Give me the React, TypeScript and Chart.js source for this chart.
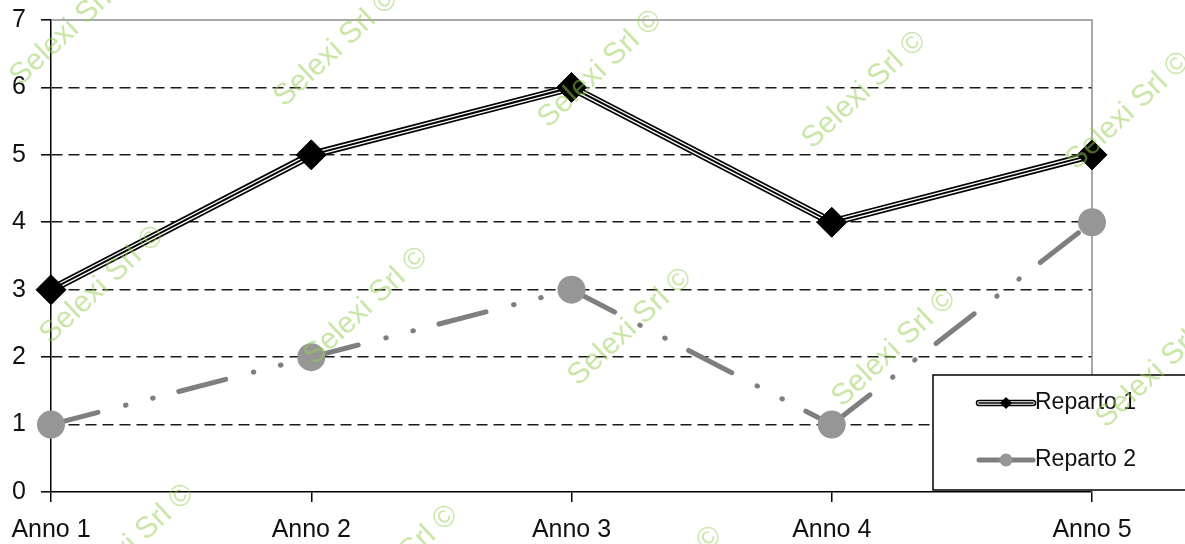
import React, { useEffect, useRef } from "react";
import { Chart, registerables } from "chart.js";

Chart.register(...registerables);

// ---- data ----
const categories = ["Anno 1", "Anno 2", "Anno 3", "Anno 4", "Anno 5"];
const reparto1 = [3, 5, 6, 4, 5];
const reparto2 = [1, 2, 3, 1, 4];
const seriesNames = ["Reparto 1", "Reparto 2"];
const yMin = 0;
const yMax = 7;
const watermarkText = "Selexi Srl ©";

const FONT = "'Liberation Sans', Arial, sans-serif";
const GRAY_LINE = "#7f7f7f";
const GRAY_POINT = "#969696";
const DASH = [48.5, 28.5, 0.5, 27.5, 0.5, 26.5];
const DASH_PERIOD = DASH.reduce((a, b) => a + b, 0);

const framePlugin = {
  id: "frame",
  beforeDatasetsDraw(chart: any) {
    const { ctx, chartArea } = chart;
    ctx.save();
    ctx.strokeStyle = "#8c8c8c";
    ctx.lineWidth = 1.5;
    ctx.beginPath();
    ctx.moveTo(chartArea.left, chartArea.top);
    ctx.lineTo(chartArea.right, chartArea.top);
    ctx.lineTo(chartArea.right, chartArea.bottom);
    ctx.stroke();
    ctx.restore();
  },
};

const legendPlugin = {
  id: "boxLegend",
  afterDatasetsDraw(chart: any) {
    const { ctx, chartArea } = chart;
    const x0 = chartArea.right - 159;
    const y0 = chartArea.bottom - 117;
    ctx.save();
    ctx.fillStyle = "#ffffff";
    ctx.strokeStyle = "#000";
    ctx.lineWidth = 1.5;
    ctx.fillRect(x0, y0, 300, 115);
    ctx.strokeRect(x0, y0, 300, 115);

    const sx1 = x0 + 46;
    const sx2 = x0 + 100;
    const cx = (sx1 + sx2) / 2;
    const r1y = y0 + 28;
    const r2y = y0 + 85;
    ctx.lineCap = "round";
    // entry 1: triple line + diamond
    ctx.strokeStyle = "#000";
    ctx.lineWidth = 6.5;
    ctx.beginPath(); ctx.moveTo(sx1, r1y); ctx.lineTo(sx2, r1y); ctx.stroke();
    ctx.strokeStyle = "#fff";
    ctx.lineWidth = 3.6;
    ctx.beginPath(); ctx.moveTo(sx1, r1y); ctx.lineTo(sx2, r1y); ctx.stroke();
    ctx.strokeStyle = "#000";
    ctx.lineWidth = 1.5;
    ctx.beginPath(); ctx.moveTo(sx1, r1y); ctx.lineTo(sx2, r1y); ctx.stroke();
    ctx.fillStyle = "#000";
    ctx.beginPath();
    ctx.moveTo(cx - 6, r1y); ctx.lineTo(cx, r1y - 6); ctx.lineTo(cx + 6, r1y); ctx.lineTo(cx, r1y + 6);
    ctx.closePath(); ctx.fill();
    // entry 2: gray line + circle
    ctx.strokeStyle = GRAY_LINE;
    ctx.lineWidth = 5;
    ctx.beginPath(); ctx.moveTo(sx1, r2y); ctx.lineTo(sx2, r2y); ctx.stroke();
    ctx.fillStyle = GRAY_POINT;
    ctx.beginPath(); ctx.arc(cx, r2y, 6.5, 0, Math.PI * 2); ctx.fill();

    ctx.fillStyle = "#111";
    ctx.font = `23px ${FONT}`;
    ctx.textBaseline = "middle";
    ctx.textAlign = "left";
    ctx.fillText(seriesNames[0], sx2 + 2, r1y);
    ctx.fillText(seriesNames[1], sx2 + 2, r2y);
    ctx.restore();
  },
};

const watermarkPlugin = {
  id: "watermark",
  afterDraw(chart: any) {
    const { ctx } = chart;
    ctx.save();
    ctx.font = `30px ${FONT}`;
    ctx.fillStyle = "rgba(146, 208, 80, 0.5)";
    ctx.textAlign = "center";
    ctx.textBaseline = "middle";
    for (let row = 0; row < 3; row++) {
      for (let col = 0; col < 5; col++) {
        const x = 72 + row * 30 + col * 264;
        const y = 27 + row * 258 + col * 21;
        ctx.save();
        ctx.translate(x, y);
        ctx.rotate((-43 * Math.PI) / 180);
        ctx.fillText(watermarkText, 0, 0);
        ctx.restore();
      }
    }
    ctx.restore();
  },
};

export default function App() {
  const canvasRef = useRef<HTMLCanvasElement | null>(null);

  useEffect(() => {
    document.body.style.margin = "0";
    const canvas = canvasRef.current;
    if (!canvas) return;
    const chart = new Chart(canvas, {
      type: "line",
      data: {
        labels: categories,
        datasets: [
          {
            label: seriesNames[0],
            data: reparto1,
            borderColor: "#000",
            borderWidth: 2,
            pointStyle: "rectRot",
            pointRadius: 15,
            pointBackgroundColor: "#000",
            pointBorderColor: "#000",
            pointBorderWidth: 1,
            tension: 0,
            clip: false,
          },
          {
            label: "r1-white",
            data: reparto1,
            borderColor: "#fff",
            borderWidth: 4.6,
            pointRadius: 0,
            tension: 0,
            clip: false,
          },
          {
            label: "r1-outer",
            data: reparto1,
            borderColor: "#000",
            borderWidth: 8,
            pointRadius: 0,
            tension: 0,
            clip: false,
          },
          {
            label: seriesNames[1],
            data: reparto2,
            borderColor: GRAY_LINE,
            borderWidth: 5,
            borderDash: DASH,
            borderCapStyle: "round",
            segment: {
              borderDashOffset: (c: any) => c.p0DataIndex * DASH_PERIOD,
            },
            pointStyle: "circle",
            pointRadius: 14,
            pointBackgroundColor: GRAY_POINT,
            pointBorderColor: GRAY_POINT,
            pointBorderWidth: 0,
            tension: 0,
            clip: false,
          } as any,
        ],
      },
      options: {
        animation: false,
        responsive: false,
        maintainAspectRatio: false,
        layout: { padding: { top: 20, right: 93, left: 0, bottom: 0 } },
        plugins: {
          legend: { display: false },
          tooltip: { enabled: false },
        },
        scales: {
          x: {
            type: "category",
            offset: false,
            grid: {
              drawOnChartArea: false,
              drawTicks: true,
              tickLength: 10,
              color: "#000",
              lineWidth: 1.5,
            },
            border: { display: true, color: "#000", width: 1.5 },
            ticks: {
              color: "#111",
              font: { family: FONT, size: 25 },
              padding: 13,
              maxRotation: 0,
              autoSkip: false,
            },
            afterFit: (s: any) => {
              s.height = 52;
              s.paddingLeft = 0;
              s.paddingRight = 0;
            },
          },
          y: {
            min: yMin,
            max: yMax,
            ticks: {
              stepSize: 1,
              color: "#111",
              font: { family: FONT, size: 25 },
              padding: 15,
            },
            grid: {
              color: (c: any) =>
                c.tick && (c.tick.value === yMin || c.tick.value === yMax)
                  ? "rgba(0,0,0,0)"
                  : "#1a1a1a",
              lineWidth: 1.6,
              tickColor: "#000",
              tickBorderDash: [],
              tickLength: 10,
              tickWidth: 1.5,
            },
            border: { display: true, color: "#000", width: 1.5, dash: [11, 6] },
            afterFit: (s: any) => {
              s.width = 51;
              s.paddingTop = 0;
              s.paddingBottom = 0;
            },
          },
        },
      } as any,
      plugins: [framePlugin, legendPlugin, watermarkPlugin],
    });
    return () => chart.destroy();
  }, []);

  return (
    <div style={{ position: "absolute", left: 0, top: 0, width: 1185, height: 544, background: "#fff" }}>
      <canvas ref={canvasRef} width={1185} height={544} />
    </div>
  );
}
